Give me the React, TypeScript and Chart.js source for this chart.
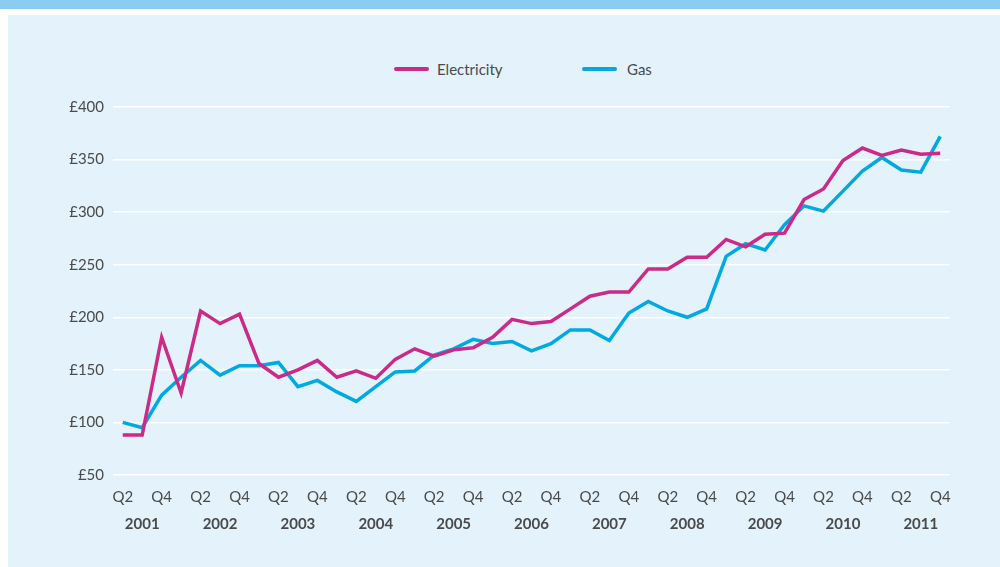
import React, { useEffect, useRef } from "react";
import { Chart, registerables } from "chart.js";

Chart.register(...registerables);

const categories: string[] = [
  "2001 Q2", "2001 Q3", "2001 Q4",
  "2002 Q1", "2002 Q2", "2002 Q3", "2002 Q4",
  "2003 Q1", "2003 Q2", "2003 Q3", "2003 Q4",
  "2004 Q1", "2004 Q2", "2004 Q3", "2004 Q4",
  "2005 Q1", "2005 Q2", "2005 Q3", "2005 Q4",
  "2006 Q1", "2006 Q2", "2006 Q3", "2006 Q4",
  "2007 Q1", "2007 Q2", "2007 Q3", "2007 Q4",
  "2008 Q1", "2008 Q2", "2008 Q3", "2008 Q4",
  "2009 Q1", "2009 Q2", "2009 Q3", "2009 Q4",
  "2010 Q1", "2010 Q2", "2010 Q3", "2010 Q4",
  "2011 Q1", "2011 Q2", "2011 Q3", "2011 Q4",
];

const electricity: number[] = [
  88, 88, 181,
  128, 206, 194, 203,
  156, 143, 150, 159,
  143, 149, 142, 160,
  170, 163, 169, 171,
  181, 198, 194, 196,
  208, 220, 224, 224,
  246, 246, 257, 257,
  274, 267, 279, 280,
  312, 322, 349, 361,
  354, 359, 355, 356,
];

const gas: number[] = [
  100, 95, 126,
  143, 159, 145, 154,
  154, 157, 134, 140,
  129, 120, 134, 148,
  149, 164, 170, 179,
  175, 177, 168, 175,
  188, 188, 178, 204,
  215, 206, 200, 208,
  258, 270, 264, 288,
  306, 301, 320, 339,
  352, 340, 338, 372,
];

const shownQuarters: string[] = ["Q2", "Q4"];
const yearLabelQuarter = "Q3";
const yMin = 50;
const yMax = 400;
const yStep = 50;
const currency = "£";

const ELEC_COLOR = "#cc2a88";
const GAS_COLOR = "#00a9e0";
const TEXT_COLOR = "#4a4a4a";
const FONT = "Lato, 'Open Sans', sans-serif";

export default function App() {
  const canvasRef = useRef<HTMLCanvasElement | null>(null);

  useEffect(() => {
    if (!canvasRef.current) return;
    const chart = new Chart(canvasRef.current, {
      type: "line",
      data: {
        labels: categories,
        datasets: [
          {
            label: "Electricity",
            data: electricity,
            borderColor: ELEC_COLOR,
            backgroundColor: ELEC_COLOR,
            borderWidth: 3.5,
            pointRadius: 0,
            tension: 0,
            xAxisID: "x",
          },
          {
            label: "Gas",
            data: gas,
            borderColor: GAS_COLOR,
            backgroundColor: GAS_COLOR,
            borderWidth: 3.5,
            pointRadius: 0,
            tension: 0,
            xAxisID: "x",
          },
        ],
      },
      options: {
        animation: false,
        responsive: false,
        maintainAspectRatio: false,
        layout: { padding: { left: 0, right: 50, top: 92, bottom: 34 } },
        plugins: {
          legend: { display: false },
          tooltip: { enabled: false },
        },
        scales: {
          x: {
            type: "category",
            position: "bottom",
            offset: true,
            grid: { display: false, drawTicks: false },
            border: { display: false },
            ticks: {
              autoSkip: false,
              maxRotation: 0,
              minRotation: 0,
              padding: 13,
              color: TEXT_COLOR,
              font: { family: FONT, size: 15 },
              callback: (_v: any, i: number) => {
                const q = categories[i].split(" ")[1];
                return shownQuarters.includes(q) ? q : "";
              },
            },
            afterFit: (s: any) => {
              s.height = 31;
            },
          },
          x2: {
            type: "category",
            position: "bottom",
            offset: true,
            grid: { display: false, drawTicks: false },
            border: { display: false },
            ticks: {
              autoSkip: false,
              maxRotation: 0,
              minRotation: 0,
              padding: 9,
              color: TEXT_COLOR,
              font: { family: FONT, size: 15, weight: "bold" },
              callback: (_v: any, i: number) => {
                const [yr, q] = categories[i].split(" ");
                return q === yearLabelQuarter ? yr : "";
              },
            },
            afterFit: (s: any) => {
              s.height = 27;
            },
          },
          y: {
            min: yMin,
            max: yMax,
            grid: { color: "#ffffff", lineWidth: 1.5, drawTicks: false },
            border: { display: false },
            ticks: {
              stepSize: yStep,
              padding: 9,
              color: TEXT_COLOR,
              font: { family: FONT, size: 15 },
              callback: (v: any) => currency + v,
            },
            afterFit: (s: any) => {
              s.width = 105;
            },
          },
        },
      },
    });
    return () => chart.destroy();
  }, []);

  const swatch = (left: number, color: string): React.CSSProperties => ({
    position: "absolute",
    left,
    top: 52,
    width: 35,
    height: 4,
    borderRadius: 2,
    background: color,
  });
  const legendText = (left: number): React.CSSProperties => ({
    position: "absolute",
    left,
    top: 45,
    lineHeight: "18px",
    fontSize: 15,
    fontFamily: FONT,
    color: TEXT_COLOR,
  });

  return (
    <div>
      <div
        style={{
          position: "absolute",
          left: 0,
          top: 0,
          width: 1000,
          height: 9,
          background: "#89cdf1",
        }}
      />
      <div
        style={{
          position: "absolute",
          left: 8,
          top: 15,
          width: 992,
          height: 552,
          background: "#e4f2fb",
        }}
      >
        <div style={swatch(386, ELEC_COLOR)} />
        <div style={legendText(429)}>Electricity</div>
        <div style={swatch(574, GAS_COLOR)} />
        <div style={legendText(619)}>Gas</div>
        <canvas
          ref={canvasRef}
          width={992}
          height={552}
          style={{ position: "absolute", left: 0, top: 0, width: 992, height: 552 }}
        />
      </div>
    </div>
  );
}
